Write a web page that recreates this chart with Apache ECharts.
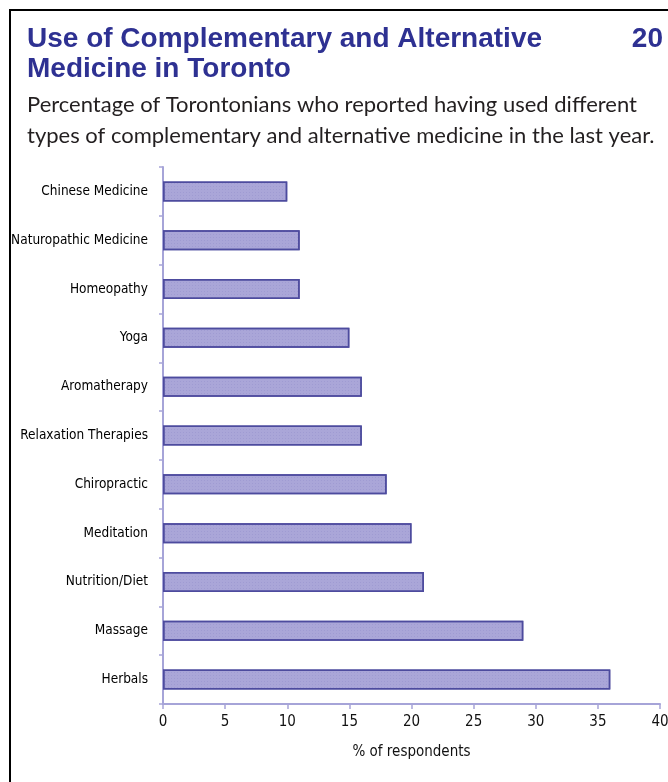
<!DOCTYPE html>
<html>
<head>
<meta charset="utf-8">
<script src="https://cdn.jsdelivr.net/npm/echarts@6/dist/echarts.min.js"></script>
<style>
html,body{margin:0;padding:0;background:#fff;}
#c{width:668px;height:782px;}
</style>
</head>
<body>
<div id="c"></div>
<script>
const categories = ["Chinese Medicine","Naturopathic Medicine","Homeopathy","Yoga","Aromatherapy","Relaxation Therapies","Chiropractic","Meditation","Nutrition/Diet","Massage","Herbals"];
const values = [10, 11, 11, 15, 16, 16, 18, 20, 21, 29, 36];
const xTicks = [0, 5, 10, 15, 20, 25, 30, 35, 40];
const titleText = "Use of Complementary and Alternative\nMedicine in Toronto";
const pageNumber = "20";
const subtitleText = "Percentage of Torontonians who reported having used different\ntypes of complementary and alternative medicine in the last year.";
const xAxisName = "% of respondents";

const chart = echarts.init(document.getElementById('c'), null, {renderer:'canvas'});
const narrow = '"Liberation Sans Narrow", "DejaVu Sans Condensed", sans-serif';
chart.setOption({
  animation:false,
  backgroundColor:'#fff',
  graphic:[
    {type:'rect', shape:{x:10, y:10, width:700, height:800}, style:{fill:'none', stroke:'#000', lineWidth:2}, silent:true}
  ],
  title:[
    {text:titleText, left:22, top:19, textStyle:{fontFamily:'"Liberation Sans", Arial, sans-serif', fontWeight:'bold', fontSize:28, lineHeight:30, color:'#2E3192'}},
    {text:pageNumber, right:0, top:19, textStyle:{fontFamily:'"Liberation Sans", Arial, sans-serif', fontWeight:'bold', fontSize:28, lineHeight:30, color:'#2E3192'}},
    {text:subtitleText, left:22, top:84, textStyle:{fontFamily:'Lato, sans-serif', fontWeight:'normal', fontSize:22, lineHeight:31, color:'#231f20'}}
  ],
  grid:{left:163, right:8, top:167, bottom:78, containLabel:false, outerBoundsMode:'none'},
  xAxis:{
    type:'value', min:0, max:40, interval:5,
    name:xAxisName, nameLocation:'middle', nameGap:41,
    nameTextStyle:{fontFamily:narrow, fontSize:15, color:'#111'},
    axisLine:{show:true, lineStyle:{color:'#a6a4d8', width:2}},
    axisTick:{show:true, length:5, lineStyle:{color:'#a6a4d8', width:1.5}},
    axisLabel:{fontFamily:narrow, fontSize:15, color:'#111', margin:11,
      formatter:function(v){return xTicks.indexOf(v)>=0 ? String(v) : '';}},
    splitLine:{show:false}
  },
  yAxis:{
    type:'category', data:categories, inverse:true,
    axisLine:{show:true, lineStyle:{color:'#a6a4d8', width:2}},
    axisTick:{show:true, length:4, lineStyle:{color:'#a6a4d8', width:1.5}},
    axisLabel:{fontFamily:narrow, fontSize:13.5, color:'#000', margin:15}
  },
  series:[{
    type:'bar', data:values, barWidth:20,
    itemStyle:{color:'#aaa6d8', borderColor:'#4d4b9e', borderWidth:1.5,
      decal:{symbol:'rect', symbolSize:1, dashArrayX:[1,2], dashArrayY:[1,2], color:'rgba(140,135,200,0.35)', rotation:0}}
  }]
});
</script>
</body>
</html>
